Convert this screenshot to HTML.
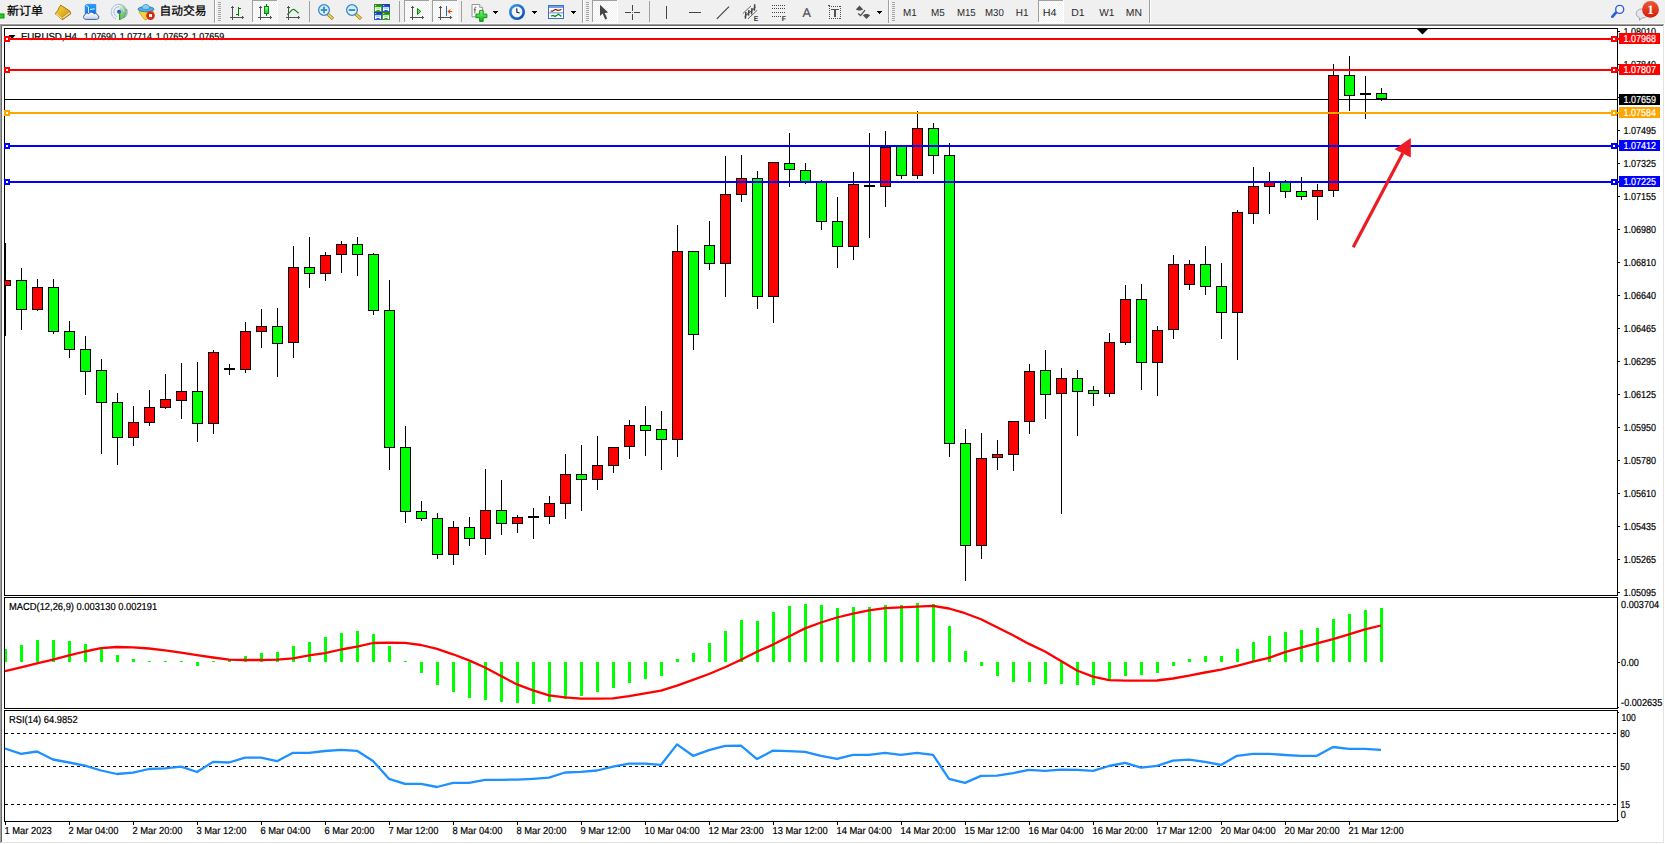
<!DOCTYPE html>
<html lang="zh"><head><meta charset="utf-8"><title>EURUSD,H4</title>
<style>
html,body{margin:0;padding:0;background:#fff;overflow:hidden}
body{width:1665px;height:844px;position:relative;font-family:"Liberation Sans","Noto Sans CJK SC",sans-serif}
svg{position:absolute;left:0;top:0;display:block}
text{white-space:pre;text-rendering:geometricPrecision}
</style></head><body>
<svg id="chart" width="1665" height="844" viewBox="0 0 1665 844" font-family="'Liberation Sans','Noto Sans CJK SC',sans-serif">
<g shape-rendering="crispEdges">
<rect x="0" y="0" width="1665" height="24" fill="#f0f0f0"/>
<rect x="0" y="23" width="1665" height="1" fill="#f8f8f8"/>
<rect x="0" y="24" width="1665" height="820" fill="#ffffff"/>
<rect x="0" y="24" width="1664" height="1" fill="#a0a0a0"/>
<rect x="0" y="24" width="1" height="819" fill="#a0a0a0"/>
<rect x="1" y="25" width="1663" height="1" fill="#696969"/>
<rect x="1" y="25" width="1" height="817" fill="#696969"/>
<rect x="1663" y="25" width="1" height="818" fill="#e3e3e3"/>
<rect x="1" y="842" width="1663" height="1" fill="#e3e3e3"/>
<rect x="4" y="28" width="1614" height="1" fill="#000"/>
<rect x="4" y="595" width="1614" height="1" fill="#000"/>
<rect x="4" y="28" width="1" height="568" fill="#000"/>
<rect x="1617" y="28" width="1" height="568" fill="#000"/>
<rect x="4" y="597" width="1614" height="1" fill="#000"/>
<rect x="4" y="708" width="1614" height="1" fill="#000"/>
<rect x="4" y="597" width="1" height="112" fill="#000"/>
<rect x="1617" y="597" width="1" height="112" fill="#000"/>
<rect x="4" y="710" width="1614" height="1" fill="#000"/>
<rect x="4" y="821" width="1614" height="1" fill="#000"/>
<rect x="4" y="710" width="1" height="112" fill="#000"/>
<rect x="1617" y="710" width="1" height="112" fill="#000"/>
</g>
<path d="M8.5 35h7l-3.5 4z" fill="#000"/>
<text x="20.90" y="40" font-size="10.2" fill="#000" stroke="#000" stroke-width=".2" textLength="56.09" lengthAdjust="spacingAndGlyphs">EURUSD,H4</text>
<text x="83.70" y="40" font-size="10.2" fill="#000" stroke="#000" stroke-width=".2" textLength="32.34" lengthAdjust="spacingAndGlyphs">1.07690</text>
<text x="119.70" y="40" font-size="10.2" fill="#000" stroke="#000" stroke-width=".2" textLength="32.34" lengthAdjust="spacingAndGlyphs">1.07714</text>
<text x="155.80" y="40" font-size="10.2" fill="#000" stroke="#000" stroke-width=".2" textLength="32.34" lengthAdjust="spacingAndGlyphs">1.07652</text>
<text x="191.80" y="40" font-size="10.2" fill="#000" stroke="#000" stroke-width=".2" textLength="32.34" lengthAdjust="spacingAndGlyphs">1.07659</text>
<g shape-rendering="crispEdges">
<rect x="5" y="99" width="1612" height="1" fill="#000"/>
<clipPath id="cm"><rect x="5" y="29" width="1612" height="566"/></clipPath><g clip-path="url(#cm)">
<rect x="5" y="243" width="1" height="93" fill="#000"/>
<rect x="0" y="280" width="11" height="6" fill="#000"/>
<rect x="1" y="281" width="9" height="4" fill="#ff0000"/>
<rect x="21" y="268" width="1" height="62" fill="#000"/>
<rect x="16" y="280" width="11" height="30" fill="#000"/>
<rect x="17" y="281" width="9" height="28" fill="#00ff00"/>
<rect x="37" y="279" width="1" height="32" fill="#000"/>
<rect x="32" y="287" width="11" height="23" fill="#000"/>
<rect x="33" y="288" width="9" height="21" fill="#ff0000"/>
<rect x="53" y="279" width="1" height="55" fill="#000"/>
<rect x="48" y="287" width="11" height="45" fill="#000"/>
<rect x="49" y="288" width="9" height="43" fill="#00ff00"/>
<rect x="69" y="321" width="1" height="37" fill="#000"/>
<rect x="64" y="331" width="11" height="19" fill="#000"/>
<rect x="65" y="332" width="9" height="17" fill="#00ff00"/>
<rect x="85" y="336" width="1" height="59" fill="#000"/>
<rect x="80" y="349" width="11" height="23" fill="#000"/>
<rect x="81" y="350" width="9" height="21" fill="#00ff00"/>
<rect x="101" y="359" width="1" height="95" fill="#000"/>
<rect x="96" y="370" width="11" height="33" fill="#000"/>
<rect x="97" y="371" width="9" height="31" fill="#00ff00"/>
<rect x="117" y="393" width="1" height="72" fill="#000"/>
<rect x="112" y="402" width="11" height="36" fill="#000"/>
<rect x="113" y="403" width="9" height="34" fill="#00ff00"/>
<rect x="133" y="406" width="1" height="40" fill="#000"/>
<rect x="128" y="422" width="11" height="16" fill="#000"/>
<rect x="129" y="423" width="9" height="14" fill="#ff0000"/>
<rect x="149" y="390" width="1" height="36" fill="#000"/>
<rect x="144" y="407" width="11" height="16" fill="#000"/>
<rect x="145" y="408" width="9" height="14" fill="#ff0000"/>
<rect x="165" y="374" width="1" height="35" fill="#000"/>
<rect x="160" y="399" width="11" height="9" fill="#000"/>
<rect x="161" y="400" width="9" height="7" fill="#ff0000"/>
<rect x="181" y="363" width="1" height="56" fill="#000"/>
<rect x="176" y="391" width="11" height="10" fill="#000"/>
<rect x="177" y="392" width="9" height="8" fill="#ff0000"/>
<rect x="197" y="362" width="1" height="80" fill="#000"/>
<rect x="192" y="391" width="11" height="33" fill="#000"/>
<rect x="193" y="392" width="9" height="31" fill="#00ff00"/>
<rect x="213" y="350" width="1" height="84" fill="#000"/>
<rect x="208" y="352" width="11" height="72" fill="#000"/>
<rect x="209" y="353" width="9" height="70" fill="#ff0000"/>
<rect x="229" y="364" width="1" height="11" fill="#000"/>
<rect x="224" y="368" width="11" height="2" fill="#000"/>
<rect x="245" y="322" width="1" height="51" fill="#000"/>
<rect x="240" y="331" width="11" height="39" fill="#000"/>
<rect x="241" y="332" width="9" height="37" fill="#ff0000"/>
<rect x="261" y="309" width="1" height="39" fill="#000"/>
<rect x="256" y="326" width="11" height="6" fill="#000"/>
<rect x="257" y="327" width="9" height="4" fill="#ff0000"/>
<rect x="277" y="308" width="1" height="69" fill="#000"/>
<rect x="272" y="326" width="11" height="18" fill="#000"/>
<rect x="273" y="327" width="9" height="16" fill="#00ff00"/>
<rect x="293" y="246" width="1" height="112" fill="#000"/>
<rect x="288" y="267" width="11" height="76" fill="#000"/>
<rect x="289" y="268" width="9" height="74" fill="#ff0000"/>
<rect x="309" y="237" width="1" height="51" fill="#000"/>
<rect x="304" y="267" width="11" height="7" fill="#000"/>
<rect x="305" y="268" width="9" height="5" fill="#00ff00"/>
<rect x="325" y="252" width="1" height="29" fill="#000"/>
<rect x="320" y="255" width="11" height="19" fill="#000"/>
<rect x="321" y="256" width="9" height="17" fill="#ff0000"/>
<rect x="341" y="241" width="1" height="32" fill="#000"/>
<rect x="336" y="244" width="11" height="11" fill="#000"/>
<rect x="337" y="245" width="9" height="9" fill="#ff0000"/>
<rect x="357" y="237" width="1" height="39" fill="#000"/>
<rect x="352" y="244" width="11" height="11" fill="#000"/>
<rect x="353" y="245" width="9" height="9" fill="#00ff00"/>
<rect x="373" y="253" width="1" height="62" fill="#000"/>
<rect x="368" y="254" width="11" height="57" fill="#000"/>
<rect x="369" y="255" width="9" height="55" fill="#00ff00"/>
<rect x="389" y="280" width="1" height="190" fill="#000"/>
<rect x="384" y="310" width="11" height="138" fill="#000"/>
<rect x="385" y="311" width="9" height="136" fill="#00ff00"/>
<rect x="405" y="426" width="1" height="97" fill="#000"/>
<rect x="400" y="447" width="11" height="65" fill="#000"/>
<rect x="401" y="448" width="9" height="63" fill="#00ff00"/>
<rect x="421" y="501" width="1" height="20" fill="#000"/>
<rect x="416" y="511" width="11" height="8" fill="#000"/>
<rect x="417" y="512" width="9" height="6" fill="#00ff00"/>
<rect x="437" y="513" width="1" height="46" fill="#000"/>
<rect x="432" y="518" width="11" height="37" fill="#000"/>
<rect x="433" y="519" width="9" height="35" fill="#00ff00"/>
<rect x="453" y="521" width="1" height="44" fill="#000"/>
<rect x="448" y="527" width="11" height="28" fill="#000"/>
<rect x="449" y="528" width="9" height="26" fill="#ff0000"/>
<rect x="469" y="517" width="1" height="29" fill="#000"/>
<rect x="464" y="527" width="11" height="12" fill="#000"/>
<rect x="465" y="528" width="9" height="10" fill="#00ff00"/>
<rect x="485" y="469" width="1" height="86" fill="#000"/>
<rect x="480" y="510" width="11" height="29" fill="#000"/>
<rect x="481" y="511" width="9" height="27" fill="#ff0000"/>
<rect x="501" y="480" width="1" height="55" fill="#000"/>
<rect x="496" y="510" width="11" height="14" fill="#000"/>
<rect x="497" y="511" width="9" height="12" fill="#00ff00"/>
<rect x="517" y="515" width="1" height="18" fill="#000"/>
<rect x="512" y="517" width="11" height="7" fill="#000"/>
<rect x="513" y="518" width="9" height="5" fill="#ff0000"/>
<rect x="533" y="508" width="1" height="31" fill="#000"/>
<rect x="528" y="516" width="11" height="2" fill="#000"/>
<rect x="549" y="496" width="1" height="28" fill="#000"/>
<rect x="544" y="503" width="11" height="14" fill="#000"/>
<rect x="545" y="504" width="9" height="12" fill="#ff0000"/>
<rect x="565" y="454" width="1" height="65" fill="#000"/>
<rect x="560" y="474" width="11" height="30" fill="#000"/>
<rect x="561" y="475" width="9" height="28" fill="#ff0000"/>
<rect x="581" y="445" width="1" height="66" fill="#000"/>
<rect x="576" y="474" width="11" height="6" fill="#000"/>
<rect x="577" y="475" width="9" height="4" fill="#00ff00"/>
<rect x="597" y="436" width="1" height="54" fill="#000"/>
<rect x="592" y="465" width="11" height="15" fill="#000"/>
<rect x="593" y="466" width="9" height="13" fill="#ff0000"/>
<rect x="613" y="447" width="1" height="26" fill="#000"/>
<rect x="608" y="447" width="11" height="19" fill="#000"/>
<rect x="609" y="448" width="9" height="17" fill="#ff0000"/>
<rect x="629" y="420" width="1" height="39" fill="#000"/>
<rect x="624" y="425" width="11" height="22" fill="#000"/>
<rect x="625" y="426" width="9" height="20" fill="#ff0000"/>
<rect x="645" y="406" width="1" height="50" fill="#000"/>
<rect x="640" y="425" width="11" height="6" fill="#000"/>
<rect x="641" y="426" width="9" height="4" fill="#00ff00"/>
<rect x="661" y="411" width="1" height="59" fill="#000"/>
<rect x="656" y="429" width="11" height="11" fill="#000"/>
<rect x="657" y="430" width="9" height="9" fill="#00ff00"/>
<rect x="677" y="225" width="1" height="232" fill="#000"/>
<rect x="672" y="251" width="11" height="189" fill="#000"/>
<rect x="673" y="252" width="9" height="187" fill="#ff0000"/>
<rect x="693" y="251" width="1" height="99" fill="#000"/>
<rect x="688" y="251" width="11" height="84" fill="#000"/>
<rect x="689" y="252" width="9" height="82" fill="#00ff00"/>
<rect x="709" y="221" width="1" height="49" fill="#000"/>
<rect x="704" y="245" width="11" height="19" fill="#000"/>
<rect x="705" y="246" width="9" height="17" fill="#00ff00"/>
<rect x="725" y="156" width="1" height="141" fill="#000"/>
<rect x="720" y="194" width="11" height="70" fill="#000"/>
<rect x="721" y="195" width="9" height="68" fill="#ff0000"/>
<rect x="741" y="155" width="1" height="47" fill="#000"/>
<rect x="736" y="178" width="11" height="17" fill="#000"/>
<rect x="737" y="179" width="9" height="15" fill="#ff0000"/>
<rect x="757" y="171" width="1" height="138" fill="#000"/>
<rect x="752" y="178" width="11" height="119" fill="#000"/>
<rect x="753" y="179" width="9" height="117" fill="#00ff00"/>
<rect x="773" y="162" width="1" height="161" fill="#000"/>
<rect x="768" y="162" width="11" height="135" fill="#000"/>
<rect x="769" y="163" width="9" height="133" fill="#ff0000"/>
<rect x="789" y="133" width="1" height="54" fill="#000"/>
<rect x="784" y="163" width="11" height="7" fill="#000"/>
<rect x="785" y="164" width="9" height="5" fill="#00ff00"/>
<rect x="805" y="163" width="1" height="21" fill="#000"/>
<rect x="800" y="170" width="11" height="12" fill="#000"/>
<rect x="801" y="171" width="9" height="10" fill="#00ff00"/>
<rect x="821" y="180" width="1" height="50" fill="#000"/>
<rect x="816" y="182" width="11" height="40" fill="#000"/>
<rect x="817" y="183" width="9" height="38" fill="#00ff00"/>
<rect x="837" y="197" width="1" height="71" fill="#000"/>
<rect x="832" y="221" width="11" height="26" fill="#000"/>
<rect x="833" y="222" width="9" height="24" fill="#00ff00"/>
<rect x="853" y="172" width="1" height="88" fill="#000"/>
<rect x="848" y="184" width="11" height="63" fill="#000"/>
<rect x="849" y="185" width="9" height="61" fill="#ff0000"/>
<rect x="869" y="133" width="1" height="105" fill="#000"/>
<rect x="864" y="185" width="11" height="2" fill="#000"/>
<rect x="885" y="131" width="1" height="76" fill="#000"/>
<rect x="880" y="147" width="11" height="40" fill="#000"/>
<rect x="881" y="148" width="9" height="38" fill="#ff0000"/>
<rect x="901" y="146" width="1" height="33" fill="#000"/>
<rect x="896" y="146" width="11" height="30" fill="#000"/>
<rect x="897" y="147" width="9" height="28" fill="#00ff00"/>
<rect x="917" y="111" width="1" height="68" fill="#000"/>
<rect x="912" y="128" width="11" height="48" fill="#000"/>
<rect x="913" y="129" width="9" height="46" fill="#ff0000"/>
<rect x="933" y="123" width="1" height="51" fill="#000"/>
<rect x="928" y="128" width="11" height="28" fill="#000"/>
<rect x="929" y="129" width="9" height="26" fill="#00ff00"/>
<rect x="949" y="143" width="1" height="314" fill="#000"/>
<rect x="944" y="155" width="11" height="289" fill="#000"/>
<rect x="945" y="156" width="9" height="287" fill="#00ff00"/>
<rect x="965" y="429" width="1" height="152" fill="#000"/>
<rect x="960" y="443" width="11" height="103" fill="#000"/>
<rect x="961" y="444" width="9" height="101" fill="#00ff00"/>
<rect x="981" y="433" width="1" height="126" fill="#000"/>
<rect x="976" y="458" width="11" height="88" fill="#000"/>
<rect x="977" y="459" width="9" height="86" fill="#ff0000"/>
<rect x="997" y="440" width="1" height="30" fill="#000"/>
<rect x="992" y="454" width="11" height="4" fill="#000"/>
<rect x="993" y="455" width="9" height="2" fill="#ff0000"/>
<rect x="1013" y="421" width="1" height="50" fill="#000"/>
<rect x="1008" y="421" width="11" height="34" fill="#000"/>
<rect x="1009" y="422" width="9" height="32" fill="#ff0000"/>
<rect x="1029" y="364" width="1" height="70" fill="#000"/>
<rect x="1024" y="371" width="11" height="51" fill="#000"/>
<rect x="1025" y="372" width="9" height="49" fill="#ff0000"/>
<rect x="1045" y="350" width="1" height="69" fill="#000"/>
<rect x="1040" y="370" width="11" height="25" fill="#000"/>
<rect x="1041" y="371" width="9" height="23" fill="#00ff00"/>
<rect x="1061" y="368" width="1" height="146" fill="#000"/>
<rect x="1056" y="378" width="11" height="16" fill="#000"/>
<rect x="1057" y="379" width="9" height="14" fill="#ff0000"/>
<rect x="1077" y="370" width="1" height="66" fill="#000"/>
<rect x="1072" y="378" width="11" height="14" fill="#000"/>
<rect x="1073" y="379" width="9" height="12" fill="#00ff00"/>
<rect x="1093" y="386" width="1" height="20" fill="#000"/>
<rect x="1088" y="390" width="11" height="4" fill="#000"/>
<rect x="1089" y="391" width="9" height="2" fill="#00ff00"/>
<rect x="1109" y="333" width="1" height="64" fill="#000"/>
<rect x="1104" y="342" width="11" height="52" fill="#000"/>
<rect x="1105" y="343" width="9" height="50" fill="#ff0000"/>
<rect x="1125" y="285" width="1" height="60" fill="#000"/>
<rect x="1120" y="299" width="11" height="44" fill="#000"/>
<rect x="1121" y="300" width="9" height="42" fill="#ff0000"/>
<rect x="1141" y="284" width="1" height="106" fill="#000"/>
<rect x="1136" y="299" width="11" height="64" fill="#000"/>
<rect x="1137" y="300" width="9" height="62" fill="#00ff00"/>
<rect x="1157" y="326" width="1" height="70" fill="#000"/>
<rect x="1152" y="330" width="11" height="33" fill="#000"/>
<rect x="1153" y="331" width="9" height="31" fill="#ff0000"/>
<rect x="1173" y="255" width="1" height="84" fill="#000"/>
<rect x="1168" y="264" width="11" height="66" fill="#000"/>
<rect x="1169" y="265" width="9" height="64" fill="#ff0000"/>
<rect x="1189" y="260" width="1" height="30" fill="#000"/>
<rect x="1184" y="264" width="11" height="21" fill="#000"/>
<rect x="1185" y="265" width="9" height="19" fill="#ff0000"/>
<rect x="1205" y="246" width="1" height="49" fill="#000"/>
<rect x="1200" y="264" width="11" height="23" fill="#000"/>
<rect x="1201" y="265" width="9" height="21" fill="#00ff00"/>
<rect x="1221" y="263" width="1" height="76" fill="#000"/>
<rect x="1216" y="286" width="11" height="27" fill="#000"/>
<rect x="1217" y="287" width="9" height="25" fill="#00ff00"/>
<rect x="1237" y="210" width="1" height="150" fill="#000"/>
<rect x="1232" y="212" width="11" height="101" fill="#000"/>
<rect x="1233" y="213" width="9" height="99" fill="#ff0000"/>
<rect x="1253" y="167" width="1" height="57" fill="#000"/>
<rect x="1248" y="186" width="11" height="28" fill="#000"/>
<rect x="1249" y="187" width="9" height="26" fill="#ff0000"/>
<rect x="1269" y="172" width="1" height="42" fill="#000"/>
<rect x="1264" y="182" width="11" height="5" fill="#000"/>
<rect x="1265" y="183" width="9" height="3" fill="#ff0000"/>
<rect x="1285" y="180" width="1" height="18" fill="#000"/>
<rect x="1280" y="182" width="11" height="10" fill="#000"/>
<rect x="1281" y="183" width="9" height="8" fill="#00ff00"/>
<rect x="1301" y="177" width="1" height="23" fill="#000"/>
<rect x="1296" y="191" width="11" height="6" fill="#000"/>
<rect x="1297" y="192" width="9" height="4" fill="#00ff00"/>
<rect x="1317" y="184" width="1" height="36" fill="#000"/>
<rect x="1312" y="190" width="11" height="7" fill="#000"/>
<rect x="1313" y="191" width="9" height="5" fill="#ff0000"/>
<rect x="1333" y="64" width="1" height="133" fill="#000"/>
<rect x="1328" y="75" width="11" height="116" fill="#000"/>
<rect x="1329" y="76" width="9" height="114" fill="#ff0000"/>
<rect x="1349" y="56" width="1" height="55" fill="#000"/>
<rect x="1344" y="75" width="11" height="21" fill="#000"/>
<rect x="1345" y="76" width="9" height="19" fill="#00ff00"/>
<rect x="1365" y="76" width="1" height="43" fill="#000"/>
<rect x="1360" y="93" width="11" height="2" fill="#000"/>
<rect x="1381" y="88" width="1" height="13" fill="#000"/>
<rect x="1376" y="93" width="11" height="6" fill="#000"/>
<rect x="1377" y="94" width="9" height="4" fill="#00ff00"/>
</g>
<rect x="5" y="38" width="1614" height="2" fill="#ff0000"/>
<rect x="4" y="36" width="6" height="6" fill="#ff0000"/>
<rect x="6" y="38" width="2" height="2" fill="#fff"/>
<rect x="1611" y="36" width="6" height="6" fill="#ff0000"/>
<rect x="1613" y="38" width="2" height="2" fill="#fff"/>
<rect x="5" y="69" width="1614" height="2" fill="#ff0000"/>
<rect x="4" y="67" width="6" height="6" fill="#ff0000"/>
<rect x="6" y="69" width="2" height="2" fill="#fff"/>
<rect x="1611" y="67" width="6" height="6" fill="#ff0000"/>
<rect x="1613" y="69" width="2" height="2" fill="#fff"/>
<rect x="5" y="112" width="1614" height="2" fill="#ffa500"/>
<rect x="4" y="110" width="6" height="6" fill="#ffa500"/>
<rect x="6" y="112" width="2" height="2" fill="#fff"/>
<rect x="1611" y="110" width="6" height="6" fill="#ffa500"/>
<rect x="1613" y="112" width="2" height="2" fill="#fff"/>
<rect x="5" y="145" width="1614" height="2" fill="#0000ff"/>
<rect x="4" y="143" width="6" height="6" fill="#0000ff"/>
<rect x="6" y="145" width="2" height="2" fill="#fff"/>
<rect x="1611" y="143" width="6" height="6" fill="#0000ff"/>
<rect x="1613" y="145" width="2" height="2" fill="#fff"/>
<rect x="5" y="181" width="1614" height="2" fill="#0000ff"/>
<rect x="4" y="179" width="6" height="6" fill="#0000ff"/>
<rect x="6" y="181" width="2" height="2" fill="#fff"/>
<rect x="1611" y="179" width="6" height="6" fill="#0000ff"/>
<rect x="1613" y="181" width="2" height="2" fill="#fff"/>
</g>
<path d="M1417 29h11l-5.5 5.5z" fill="#000"/>
<g shape-rendering="crispEdges">
<rect x="1618" y="31" width="2" height="1" fill="#000"/>
<rect x="1618" y="64" width="2" height="1" fill="#000"/>
<rect x="1618" y="97" width="2" height="1" fill="#000"/>
<rect x="1618" y="130" width="2" height="1" fill="#000"/>
<rect x="1618" y="163" width="2" height="1" fill="#000"/>
<rect x="1618" y="196" width="2" height="1" fill="#000"/>
<rect x="1618" y="229" width="2" height="1" fill="#000"/>
<rect x="1618" y="262" width="2" height="1" fill="#000"/>
<rect x="1618" y="295" width="2" height="1" fill="#000"/>
<rect x="1618" y="328" width="2" height="1" fill="#000"/>
<rect x="1618" y="361" width="2" height="1" fill="#000"/>
<rect x="1618" y="394" width="2" height="1" fill="#000"/>
<rect x="1618" y="427" width="2" height="1" fill="#000"/>
<rect x="1618" y="460" width="2" height="1" fill="#000"/>
<rect x="1618" y="493" width="2" height="1" fill="#000"/>
<rect x="1618" y="526" width="2" height="1" fill="#000"/>
<rect x="1618" y="559" width="2" height="1" fill="#000"/>
<rect x="1618" y="592" width="2" height="1" fill="#000"/>
<rect x="1618" y="662" width="2" height="1" fill="#000"/>
<rect x="1618" y="707" width="1" height="1" fill="#000"/>
<rect x="1618" y="712" width="1" height="1" fill="#000"/>
<rect x="1618" y="820" width="1" height="1" fill="#000"/>
</g>
<text x="1623.50" y="35" font-size="10.2" fill="#000" stroke="#000" stroke-width=".2" textLength="32.54" lengthAdjust="spacingAndGlyphs">1.08010</text>
<text x="1623.50" y="68" font-size="10.2" fill="#000" stroke="#000" stroke-width=".2" textLength="32.54" lengthAdjust="spacingAndGlyphs">1.07840</text>
<text x="1623.50" y="101" font-size="10.2" fill="#000" stroke="#000" stroke-width=".2" textLength="32.54" lengthAdjust="spacingAndGlyphs">1.07670</text>
<text x="1623.50" y="134" font-size="10.2" fill="#000" stroke="#000" stroke-width=".2" textLength="32.54" lengthAdjust="spacingAndGlyphs">1.07495</text>
<text x="1623.50" y="167" font-size="10.2" fill="#000" stroke="#000" stroke-width=".2" textLength="32.54" lengthAdjust="spacingAndGlyphs">1.07325</text>
<text x="1623.50" y="200" font-size="10.2" fill="#000" stroke="#000" stroke-width=".2" textLength="32.54" lengthAdjust="spacingAndGlyphs">1.07155</text>
<text x="1623.50" y="233" font-size="10.2" fill="#000" stroke="#000" stroke-width=".2" textLength="32.54" lengthAdjust="spacingAndGlyphs">1.06980</text>
<text x="1623.50" y="266" font-size="10.2" fill="#000" stroke="#000" stroke-width=".2" textLength="32.54" lengthAdjust="spacingAndGlyphs">1.06810</text>
<text x="1623.50" y="299" font-size="10.2" fill="#000" stroke="#000" stroke-width=".2" textLength="32.54" lengthAdjust="spacingAndGlyphs">1.06640</text>
<text x="1623.50" y="332" font-size="10.2" fill="#000" stroke="#000" stroke-width=".2" textLength="32.54" lengthAdjust="spacingAndGlyphs">1.06465</text>
<text x="1623.50" y="365" font-size="10.2" fill="#000" stroke="#000" stroke-width=".2" textLength="32.54" lengthAdjust="spacingAndGlyphs">1.06295</text>
<text x="1623.50" y="398" font-size="10.2" fill="#000" stroke="#000" stroke-width=".2" textLength="32.54" lengthAdjust="spacingAndGlyphs">1.06125</text>
<text x="1623.50" y="431" font-size="10.2" fill="#000" stroke="#000" stroke-width=".2" textLength="32.54" lengthAdjust="spacingAndGlyphs">1.05950</text>
<text x="1623.50" y="464" font-size="10.2" fill="#000" stroke="#000" stroke-width=".2" textLength="32.54" lengthAdjust="spacingAndGlyphs">1.05780</text>
<text x="1623.50" y="497" font-size="10.2" fill="#000" stroke="#000" stroke-width=".2" textLength="32.54" lengthAdjust="spacingAndGlyphs">1.05610</text>
<text x="1623.50" y="530" font-size="10.2" fill="#000" stroke="#000" stroke-width=".2" textLength="32.54" lengthAdjust="spacingAndGlyphs">1.05435</text>
<text x="1623.50" y="563" font-size="10.2" fill="#000" stroke="#000" stroke-width=".2" textLength="32.54" lengthAdjust="spacingAndGlyphs">1.05265</text>
<text x="1623.50" y="596" font-size="10.2" fill="#000" stroke="#000" stroke-width=".2" textLength="32.54" lengthAdjust="spacingAndGlyphs">1.05095</text>
<g shape-rendering="crispEdges">
<rect x="1619" y="94" width="41" height="11" fill="#000"/>
<rect x="1619" y="33" width="41" height="11" fill="#ff0000"/>
<rect x="1619" y="64" width="41" height="11" fill="#ff0000"/>
<rect x="1619" y="107" width="41" height="11" fill="#ffa500"/>
<rect x="1619" y="140" width="41" height="11" fill="#0000ff"/>
<rect x="1619" y="176" width="41" height="11" fill="#0000ff"/>
</g>
<text x="1623.50" y="103" font-size="10.2" fill="#fff" stroke="#fff" stroke-width=".2" textLength="32.54" lengthAdjust="spacingAndGlyphs">1.07659</text>
<text x="1623.50" y="42" font-size="10.2" fill="#fff" stroke="#fff" stroke-width=".2" textLength="32.54" lengthAdjust="spacingAndGlyphs">1.07968</text>
<text x="1623.50" y="73" font-size="10.2" fill="#fff" stroke="#fff" stroke-width=".2" textLength="32.54" lengthAdjust="spacingAndGlyphs">1.07807</text>
<text x="1623.50" y="116" font-size="10.2" fill="#fff" stroke="#fff" stroke-width=".2" textLength="32.54" lengthAdjust="spacingAndGlyphs">1.07584</text>
<text x="1623.50" y="149" font-size="10.2" fill="#fff" stroke="#fff" stroke-width=".2" textLength="32.54" lengthAdjust="spacingAndGlyphs">1.07412</text>
<text x="1623.50" y="185" font-size="10.2" fill="#fff" stroke="#fff" stroke-width=".2" textLength="32.54" lengthAdjust="spacingAndGlyphs">1.07225</text>
<clipPath id="cq"><rect x="5" y="598" width="1612" height="110"/></clipPath><g shape-rendering="crispEdges" clip-path="url(#cq)">
<rect x="4" y="649" width="3" height="13" fill="#00ff00"/>
<rect x="20" y="645" width="3" height="17" fill="#00ff00"/>
<rect x="36" y="640" width="3" height="22" fill="#00ff00"/>
<rect x="52" y="640" width="3" height="22" fill="#00ff00"/>
<rect x="68" y="641" width="3" height="21" fill="#00ff00"/>
<rect x="84" y="644" width="3" height="18" fill="#00ff00"/>
<rect x="100" y="649" width="3" height="13" fill="#00ff00"/>
<rect x="116" y="655" width="3" height="7" fill="#00ff00"/>
<rect x="132" y="659" width="3" height="3" fill="#00ff00"/>
<rect x="148" y="661" width="3" height="1" fill="#00ff00"/>
<rect x="164" y="661" width="3" height="1" fill="#00ff00"/>
<rect x="180" y="661" width="3" height="1" fill="#00ff00"/>
<rect x="196" y="662" width="3" height="4" fill="#00ff00"/>
<rect x="212" y="661" width="3" height="1" fill="#00ff00"/>
<rect x="228" y="660" width="3" height="2" fill="#00ff00"/>
<rect x="244" y="656" width="3" height="6" fill="#00ff00"/>
<rect x="260" y="653" width="3" height="9" fill="#00ff00"/>
<rect x="276" y="652" width="3" height="10" fill="#00ff00"/>
<rect x="292" y="646" width="3" height="16" fill="#00ff00"/>
<rect x="308" y="642" width="3" height="20" fill="#00ff00"/>
<rect x="324" y="637" width="3" height="25" fill="#00ff00"/>
<rect x="340" y="633" width="3" height="29" fill="#00ff00"/>
<rect x="356" y="631" width="3" height="31" fill="#00ff00"/>
<rect x="372" y="634" width="3" height="28" fill="#00ff00"/>
<rect x="388" y="646" width="3" height="16" fill="#00ff00"/>
<rect x="404" y="661" width="3" height="1" fill="#00ff00"/>
<rect x="420" y="662" width="3" height="11" fill="#00ff00"/>
<rect x="436" y="662" width="3" height="23" fill="#00ff00"/>
<rect x="452" y="662" width="3" height="30" fill="#00ff00"/>
<rect x="468" y="662" width="3" height="36" fill="#00ff00"/>
<rect x="484" y="662" width="3" height="38" fill="#00ff00"/>
<rect x="500" y="662" width="3" height="40" fill="#00ff00"/>
<rect x="516" y="662" width="3" height="41" fill="#00ff00"/>
<rect x="532" y="662" width="3" height="42" fill="#00ff00"/>
<rect x="548" y="662" width="3" height="40" fill="#00ff00"/>
<rect x="564" y="662" width="3" height="37" fill="#00ff00"/>
<rect x="580" y="662" width="3" height="34" fill="#00ff00"/>
<rect x="596" y="662" width="3" height="30" fill="#00ff00"/>
<rect x="612" y="662" width="3" height="26" fill="#00ff00"/>
<rect x="628" y="662" width="3" height="21" fill="#00ff00"/>
<rect x="644" y="662" width="3" height="17" fill="#00ff00"/>
<rect x="660" y="662" width="3" height="14" fill="#00ff00"/>
<rect x="676" y="659" width="3" height="3" fill="#00ff00"/>
<rect x="692" y="653" width="3" height="9" fill="#00ff00"/>
<rect x="708" y="643" width="3" height="19" fill="#00ff00"/>
<rect x="724" y="631" width="3" height="31" fill="#00ff00"/>
<rect x="740" y="620" width="3" height="42" fill="#00ff00"/>
<rect x="756" y="621" width="3" height="41" fill="#00ff00"/>
<rect x="772" y="612" width="3" height="50" fill="#00ff00"/>
<rect x="788" y="606" width="3" height="56" fill="#00ff00"/>
<rect x="804" y="604" width="3" height="58" fill="#00ff00"/>
<rect x="820" y="605" width="3" height="57" fill="#00ff00"/>
<rect x="836" y="608" width="3" height="54" fill="#00ff00"/>
<rect x="852" y="607" width="3" height="55" fill="#00ff00"/>
<rect x="868" y="607" width="3" height="55" fill="#00ff00"/>
<rect x="884" y="605" width="3" height="57" fill="#00ff00"/>
<rect x="900" y="605" width="3" height="57" fill="#00ff00"/>
<rect x="916" y="603" width="3" height="59" fill="#00ff00"/>
<rect x="932" y="604" width="3" height="58" fill="#00ff00"/>
<rect x="948" y="626" width="3" height="36" fill="#00ff00"/>
<rect x="964" y="651" width="3" height="11" fill="#00ff00"/>
<rect x="980" y="662" width="3" height="4" fill="#00ff00"/>
<rect x="996" y="662" width="3" height="14" fill="#00ff00"/>
<rect x="1012" y="662" width="3" height="20" fill="#00ff00"/>
<rect x="1028" y="662" width="3" height="20" fill="#00ff00"/>
<rect x="1044" y="662" width="3" height="22" fill="#00ff00"/>
<rect x="1060" y="662" width="3" height="22" fill="#00ff00"/>
<rect x="1076" y="662" width="3" height="23" fill="#00ff00"/>
<rect x="1092" y="662" width="3" height="23" fill="#00ff00"/>
<rect x="1108" y="662" width="3" height="19" fill="#00ff00"/>
<rect x="1124" y="662" width="3" height="14" fill="#00ff00"/>
<rect x="1140" y="662" width="3" height="13" fill="#00ff00"/>
<rect x="1156" y="662" width="3" height="11" fill="#00ff00"/>
<rect x="1172" y="662" width="3" height="4" fill="#00ff00"/>
<rect x="1188" y="659" width="3" height="3" fill="#00ff00"/>
<rect x="1204" y="656" width="3" height="6" fill="#00ff00"/>
<rect x="1220" y="656" width="3" height="6" fill="#00ff00"/>
<rect x="1236" y="649" width="3" height="13" fill="#00ff00"/>
<rect x="1252" y="642" width="3" height="20" fill="#00ff00"/>
<rect x="1268" y="636" width="3" height="26" fill="#00ff00"/>
<rect x="1284" y="632" width="3" height="30" fill="#00ff00"/>
<rect x="1300" y="630" width="3" height="32" fill="#00ff00"/>
<rect x="1316" y="628" width="3" height="34" fill="#00ff00"/>
<rect x="1332" y="619" width="3" height="43" fill="#00ff00"/>
<rect x="1348" y="614" width="3" height="48" fill="#00ff00"/>
<rect x="1364" y="610" width="3" height="52" fill="#00ff00"/>
<rect x="1380" y="608" width="3" height="54" fill="#00ff00"/>
</g>
<polyline points="5,671.2 21,667.3 37,663.4 53,659.7 69,655.4 85,651.5 101,648.2 117,647.0 133,647.4 149,648.5 165,650.4 181,652.6 197,655.2 213,657.5 229,659.7 245,660.0 261,660.0 277,659.7 293,658.4 309,655.4 325,653.2 341,649.5 357,646.7 373,643.0 389,642.6 405,642.8 421,645.0 437,648.9 453,654.3 469,660.4 485,667.5 501,676.1 517,684.4 533,690.4 549,695.4 565,697.3 581,698.6 597,698.6 613,698.4 629,696.2 645,693.4 661,690.6 677,685.6 693,679.8 709,674.0 725,667.3 741,659.7 757,651.7 773,644.6 789,636.4 805,628.4 821,622.5 837,617.5 853,613.6 869,610.4 885,608.2 901,607.4 917,606.7 933,605.9 949,608.5 965,613.2 981,619.3 997,627.3 1013,635.3 1029,643.9 1045,651.5 1061,661.0 1077,670.5 1093,676.6 1109,680.2 1125,680.7 1141,680.7 1157,680.5 1173,678.5 1189,675.7 1205,672.5 1221,669.6 1237,665.8 1253,661.6 1269,657.8 1285,652.1 1301,647.6 1317,643.3 1333,639.2 1349,634.4 1365,629.4 1381,625.5" fill="none" stroke="#ff0000" stroke-width="2.3" stroke-linejoin="round"/>
<text x="9" y="610" font-size="10.2" fill="#000" stroke="#000" stroke-width=".2" textLength="148.2" lengthAdjust="spacingAndGlyphs">MACD(12,26,9) 0.003130 0.002191</text>
<text x="1621.10" y="608" font-size="10.2" fill="#000" stroke="#000" stroke-width=".2" textLength="38.10" lengthAdjust="spacingAndGlyphs">0.003704</text>
<text x="1621.10" y="666" font-size="10.2" fill="#000" stroke="#000" stroke-width=".2" textLength="17.86" lengthAdjust="spacingAndGlyphs">0.00</text>
<text x="1621.10" y="706" font-size="10.2" fill="#000" stroke="#000" stroke-width=".2" textLength="41.13" lengthAdjust="spacingAndGlyphs">-0.002635</text>
<g shape-rendering="crispEdges">
<path d="M5 733.5H1617" stroke="#000" stroke-width="1" stroke-dasharray="3 3" fill="none"/>
<path d="M5 766.5H1617" stroke="#000" stroke-width="1" stroke-dasharray="3 3" fill="none"/>
<path d="M5 804.5H1617" stroke="#000" stroke-width="1" stroke-dasharray="3 3" fill="none"/>
</g>
<polyline points="5,748.5 21,753.9 37,751.5 53,759.5 69,762.5 85,765.6 101,770.5 117,774.0 133,772.7 149,769.0 165,768.4 181,766.6 197,772.0 213,761.9 229,762.5 245,757.6 261,757.6 277,761.2 293,752.8 309,752.8 325,751.0 341,749.8 357,750.8 373,761.0 389,778.8 405,783.9 421,783.9 437,787.0 453,782.9 469,782.9 485,779.8 501,779.8 517,779.6 533,778.8 549,777.7 565,772.5 581,771.8 597,770.5 613,766.6 629,763.6 645,763.6 661,764.9 677,744.4 693,755.8 709,750.2 725,745.9 741,745.7 757,759.1 773,750.6 789,751.1 805,751.9 821,755.8 837,758.9 853,754.8 869,754.8 885,752.8 901,754.8 917,752.8 933,754.8 949,778.8 965,782.9 981,775.9 997,775.7 1013,773.1 1029,769.9 1045,770.8 1061,769.7 1077,769.9 1093,770.8 1109,766.0 1125,762.8 1141,767.7 1157,765.8 1173,760.6 1189,759.7 1205,761.9 1221,764.9 1237,755.8 1253,753.9 1269,753.9 1285,755.0 1301,755.8 1317,755.8 1333,747.0 1349,748.9 1365,748.9 1381,749.8" fill="none" stroke="#1e90ff" stroke-width="2.3" stroke-linejoin="round"/>
<text x="9" y="723" font-size="10.2" fill="#000" stroke="#000" stroke-width=".2" textLength="68.6" lengthAdjust="spacingAndGlyphs">RSI(14) 64.9852</text>
<text x="1621.40" y="721" font-size="10.2" fill="#000" stroke="#000" stroke-width=".2" textLength="14.29" lengthAdjust="spacingAndGlyphs">100</text>
<text x="1620.30" y="737" font-size="10.2" fill="#000" stroke="#000" stroke-width=".2" textLength="9.52" lengthAdjust="spacingAndGlyphs">80</text>
<text x="1620.30" y="770" font-size="10.2" fill="#000" stroke="#000" stroke-width=".2" textLength="9.52" lengthAdjust="spacingAndGlyphs">50</text>
<text x="1620.60" y="808" font-size="10.2" fill="#000" stroke="#000" stroke-width=".2" textLength="9.42" lengthAdjust="spacingAndGlyphs">15</text>
<text x="1620.80" y="818" font-size="10.2" fill="#000" stroke="#000" stroke-width=".2" textLength="5.16" lengthAdjust="spacingAndGlyphs">0</text>
<g shape-rendering="crispEdges">
<rect x="5" y="822" width="1" height="3" fill="#000"/>
<rect x="69" y="822" width="1" height="3" fill="#000"/>
<rect x="133" y="822" width="1" height="3" fill="#000"/>
<rect x="197" y="822" width="1" height="3" fill="#000"/>
<rect x="261" y="822" width="1" height="3" fill="#000"/>
<rect x="325" y="822" width="1" height="3" fill="#000"/>
<rect x="389" y="822" width="1" height="3" fill="#000"/>
<rect x="453" y="822" width="1" height="3" fill="#000"/>
<rect x="517" y="822" width="1" height="3" fill="#000"/>
<rect x="581" y="822" width="1" height="3" fill="#000"/>
<rect x="645" y="822" width="1" height="3" fill="#000"/>
<rect x="709" y="822" width="1" height="3" fill="#000"/>
<rect x="773" y="822" width="1" height="3" fill="#000"/>
<rect x="837" y="822" width="1" height="3" fill="#000"/>
<rect x="901" y="822" width="1" height="3" fill="#000"/>
<rect x="965" y="822" width="1" height="3" fill="#000"/>
<rect x="1029" y="822" width="1" height="3" fill="#000"/>
<rect x="1093" y="822" width="1" height="3" fill="#000"/>
<rect x="1157" y="822" width="1" height="3" fill="#000"/>
<rect x="1221" y="822" width="1" height="3" fill="#000"/>
<rect x="1285" y="822" width="1" height="3" fill="#000"/>
<rect x="1349" y="822" width="1" height="3" fill="#000"/>
</g>
<text x="4.5" y="834" font-size="10.2" fill="#000" stroke="#000" stroke-width=".2" textLength="47.3" lengthAdjust="spacingAndGlyphs">1 Mar 2023</text>
<text x="68.5" y="834" font-size="10.2" fill="#000" stroke="#000" stroke-width=".2" textLength="49.9" lengthAdjust="spacingAndGlyphs">2 Mar 04:00</text>
<text x="132.5" y="834" font-size="10.2" fill="#000" stroke="#000" stroke-width=".2" textLength="49.9" lengthAdjust="spacingAndGlyphs">2 Mar 20:00</text>
<text x="196.5" y="834" font-size="10.2" fill="#000" stroke="#000" stroke-width=".2" textLength="49.9" lengthAdjust="spacingAndGlyphs">3 Mar 12:00</text>
<text x="260.5" y="834" font-size="10.2" fill="#000" stroke="#000" stroke-width=".2" textLength="49.9" lengthAdjust="spacingAndGlyphs">6 Mar 04:00</text>
<text x="324.5" y="834" font-size="10.2" fill="#000" stroke="#000" stroke-width=".2" textLength="49.9" lengthAdjust="spacingAndGlyphs">6 Mar 20:00</text>
<text x="388.5" y="834" font-size="10.2" fill="#000" stroke="#000" stroke-width=".2" textLength="49.9" lengthAdjust="spacingAndGlyphs">7 Mar 12:00</text>
<text x="452.5" y="834" font-size="10.2" fill="#000" stroke="#000" stroke-width=".2" textLength="49.9" lengthAdjust="spacingAndGlyphs">8 Mar 04:00</text>
<text x="516.5" y="834" font-size="10.2" fill="#000" stroke="#000" stroke-width=".2" textLength="49.9" lengthAdjust="spacingAndGlyphs">8 Mar 20:00</text>
<text x="580.5" y="834" font-size="10.2" fill="#000" stroke="#000" stroke-width=".2" textLength="49.9" lengthAdjust="spacingAndGlyphs">9 Mar 12:00</text>
<text x="644.5" y="834" font-size="10.2" fill="#000" stroke="#000" stroke-width=".2" textLength="55.1" lengthAdjust="spacingAndGlyphs">10 Mar 04:00</text>
<text x="708.5" y="834" font-size="10.2" fill="#000" stroke="#000" stroke-width=".2" textLength="55.1" lengthAdjust="spacingAndGlyphs">12 Mar 23:00</text>
<text x="772.5" y="834" font-size="10.2" fill="#000" stroke="#000" stroke-width=".2" textLength="55.1" lengthAdjust="spacingAndGlyphs">13 Mar 12:00</text>
<text x="836.5" y="834" font-size="10.2" fill="#000" stroke="#000" stroke-width=".2" textLength="55.1" lengthAdjust="spacingAndGlyphs">14 Mar 04:00</text>
<text x="900.5" y="834" font-size="10.2" fill="#000" stroke="#000" stroke-width=".2" textLength="55.1" lengthAdjust="spacingAndGlyphs">14 Mar 20:00</text>
<text x="964.5" y="834" font-size="10.2" fill="#000" stroke="#000" stroke-width=".2" textLength="55.1" lengthAdjust="spacingAndGlyphs">15 Mar 12:00</text>
<text x="1028.5" y="834" font-size="10.2" fill="#000" stroke="#000" stroke-width=".2" textLength="55.1" lengthAdjust="spacingAndGlyphs">16 Mar 04:00</text>
<text x="1092.5" y="834" font-size="10.2" fill="#000" stroke="#000" stroke-width=".2" textLength="55.1" lengthAdjust="spacingAndGlyphs">16 Mar 20:00</text>
<text x="1156.5" y="834" font-size="10.2" fill="#000" stroke="#000" stroke-width=".2" textLength="55.1" lengthAdjust="spacingAndGlyphs">17 Mar 12:00</text>
<text x="1220.5" y="834" font-size="10.2" fill="#000" stroke="#000" stroke-width=".2" textLength="55.1" lengthAdjust="spacingAndGlyphs">20 Mar 04:00</text>
<text x="1284.5" y="834" font-size="10.2" fill="#000" stroke="#000" stroke-width=".2" textLength="55.1" lengthAdjust="spacingAndGlyphs">20 Mar 20:00</text>
<text x="1348.5" y="834" font-size="10.2" fill="#000" stroke="#000" stroke-width=".2" textLength="55.1" lengthAdjust="spacingAndGlyphs">21 Mar 12:00</text>
<path d="M1353.2 247.3L1402.8 153.2" stroke="#ed1c24" stroke-width="3.2" fill="none"/>
<path d="M1410.8 138L1394.5 149.3L1410.8 157.6z" fill="#ed1c24"/>
</svg>
<svg id="toolbar" width="1665" height="24" viewBox="0 0 1665 24" font-family="'Liberation Sans','Noto Sans CJK SC',sans-serif">
<defs>
<pattern id="chk" width="2" height="2" patternUnits="userSpaceOnUse"><rect width="2" height="2" fill="#f0f0f0"/><rect width="1" height="1" fill="#fff"/><rect x="1" y="1" width="1" height="1" fill="#fff"/></pattern>
<linearGradient id="gold" x1="0" y1="0" x2="1" y2="1"><stop offset="0" stop-color="#f9dc3a"/><stop offset="1" stop-color="#c98a12"/></linearGradient>
<linearGradient id="gcan" x1="0" y1="0" x2="0" y2="1"><stop offset="0" stop-color="#8cf79c"/><stop offset="1" stop-color="#14d034"/></linearGradient>
<linearGradient id="badge" x1="0" y1="0" x2="0" y2="1"><stop offset="0" stop-color="#ea5a3a"/><stop offset="1" stop-color="#d61a05"/></linearGradient>
<linearGradient id="lens" x1="0" y1="0" x2="0" y2="1"><stop offset="0" stop-color="#c4e8f8"/><stop offset="1" stop-color="#eefaff"/></linearGradient>
<linearGradient id="gplus" x1="0" y1="0" x2="0" y2="1"><stop offset="0" stop-color="#7dfa7d"/><stop offset="1" stop-color="#0fb30f"/></linearGradient>
<linearGradient id="blu" x1="0" y1="0" x2="0" y2="1"><stop offset="0" stop-color="#2aa0ff"/><stop offset="1" stop-color="#0a70e0"/></linearGradient>
<linearGradient id="cloud" x1="0" y1="0" x2="0" y2="1"><stop offset="0" stop-color="#ffffff"/><stop offset="1" stop-color="#c4d2ea"/></linearGradient>
</defs>
<rect x="-2" y="14" width="6" height="4" fill="#1fd11f" stroke="#0a8a0a" stroke-width="1"/>
<text x="7" y="15" font-size="12" fill="#000" stroke="#000" stroke-width=".25">新订单</text>
<path d="M60.7 5.2L69.8 11L70.8 13.8L62.5 19.7L55.2 13.7Q58.4 10.4 59.2 7.4Z" fill="url(#gold)" stroke="#a8700f" stroke-width="1" stroke-linejoin="round"/>
<path d="M69.5 11.6L70.5 13.6L62.7 19.2L62 17.4Z" fill="#e8dca0" stroke="#a8700f" stroke-width=".5"/>
<path d="M56.2 14L62 18.4" fill="none" stroke="#ffe98a" stroke-width="1.1" opacity=".9"/>
<path d="M85.2 5.2L88 4.2L95.8 4.6L95.8 14L85.2 14Z" fill="url(#blu)" stroke="#0a78e8" stroke-width=".6"/>
<path d="M85.8 5.2L88.5 7L88.5 13" stroke="#e8f6ff" stroke-width=".9" fill="none"/><path d="M90.2 9.5L94.6 8.7" stroke="#e6f4ff" stroke-width="1.1"/>
<path d="M86.2 19.4C83 19.4 82.6 15.6 85 14.8C85.2 13 87.6 12.6 88.6 13.8C89.4 11.8 93.2 11.6 94 13.8C95.4 12.8 97.6 13.6 97.4 15.2C99.6 15.6 99.4 19.4 96.4 19.4Z" fill="url(#cloud)" stroke="#3f5f9f" stroke-width="1"/>
<defs><linearGradient id="rad" x1="0" y1="0" x2=".6" y2="1"><stop offset="0" stop-color="#e6efe2"/><stop offset="1" stop-color="#3aa23a"/></linearGradient></defs>
<path d="M119 4A8 8 0 0 1 119.8 19.9L119.8 12Z" fill="url(#rad)" opacity=".85"/>
<g fill="none" stroke-width="1" stroke-dasharray="1.6 .8"><path d="M119 4.2A7.7 7.7 0 0 0 116 19" stroke="#5f8fe0" opacity=".75"/><path d="M119 6.8A5.1 5.1 0 0 0 116.6 16.4" stroke="#5f8fe0" opacity=".8"/></g>
<g fill="none" stroke-width=".9"><path d="M119 6.8A5.1 5.1 0 0 1 124 12" stroke="#fff" opacity=".6"/><path d="M119 4.2A7.7 7.7 0 0 1 126.6 11" stroke="#7a9ac8" opacity=".6"/><path d="M126.6 9A7.9 7.9 0 0 1 124 18" stroke="#3a7a9a" opacity=".7"/></g>
<circle cx="119" cy="11.8" r="2" fill="#2458cc"/><rect x="119" y="12" width="1.3" height="8" fill="#1fa51f"/>
<path d="M139.5 10.5L152.5 10.5L153 13L146 19.8L144.6 19.6L139.2 12.4Z" fill="#f7d438" stroke="#c79a1a" stroke-width=".8"/>
<ellipse cx="146" cy="9.2" rx="8" ry="2.6" fill="#56ace0" stroke="#1f80b0" stroke-width=".9"/><path d="M141.8 8.6C142 3 149.6 3 149.8 8.6C147.4 9.8 144.2 9.8 141.8 8.6Z" fill="#86ccf2" stroke="#2a86c0" stroke-width=".7"/>
<circle cx="150.5" cy="15.6" r="4.3" fill="#d92a10"/><rect x="149" y="14.1" width="3" height="3" fill="#fff"/>
<text x="159.6" y="15" font-size="12" fill="#000" stroke="#000" stroke-width=".25" textLength="47" lengthAdjust="spacingAndGlyphs">自动交易</text>
<rect x="214" y="0" width="1" height="23" fill="#a0a0a0" shape-rendering="crispEdges"/><rect x="215" y="0" width="1" height="23" fill="#fff" shape-rendering="crispEdges"/>
<g fill="#a6a6a6" shape-rendering="crispEdges"><rect x="218" y="2" width="3" height="1"/><rect x="218" y="4" width="3" height="1"/><rect x="218" y="6" width="3" height="1"/><rect x="218" y="8" width="3" height="1"/><rect x="218" y="10" width="3" height="1"/><rect x="218" y="12" width="3" height="1"/><rect x="218" y="14" width="3" height="1"/><rect x="218" y="16" width="3" height="1"/><rect x="218" y="18" width="3" height="1"/><rect x="218" y="20" width="3" height="1"/></g>
<g transform="translate(230,6)" fill="#505050" shape-rendering="crispEdges"><rect x="2" y="0" width="1" height="14"/><rect x="1" y="1" width="3" height="1"/><rect x="0" y="11" width="14" height="1"/><rect x="12" y="10" width="1" height="3"/></g>
<g fill="#008000" shape-rendering="crispEdges"><rect x="238" y="7" width="1" height="9"/><rect x="239" y="8" width="2" height="1"/><rect x="236" y="14" width="2" height="1"/></g>
<g shape-rendering="crispEdges"><rect x="252" y="0" width="26" height="23" fill="url(#chk)"/><rect x="252" y="0" width="25" height="1" fill="#a0a0a0"/><rect x="252" y="0" width="1" height="22" fill="#a0a0a0"/><rect x="252" y="22" width="26" height="1" fill="#fff"/><rect x="277" y="0" width="1" height="23" fill="#fff"/></g>
<g transform="translate(258,6)" fill="#505050" shape-rendering="crispEdges"><rect x="2" y="0" width="1" height="14"/><rect x="1" y="1" width="3" height="1"/><rect x="0" y="11" width="14" height="1"/><rect x="12" y="10" width="1" height="3"/></g>
<g shape-rendering="crispEdges"><rect x="266" y="4" width="1" height="12" fill="#008000"/><rect x="264" y="6" width="5" height="8" fill="#0a8a0a"/><rect x="265" y="7" width="3" height="6" fill="url(#gcan)"/></g>
<g transform="translate(286,6)" fill="#505050" shape-rendering="crispEdges"><rect x="2" y="0" width="1" height="14"/><rect x="1" y="1" width="3" height="1"/><rect x="0" y="11" width="14" height="1"/><rect x="12" y="10" width="1" height="3"/></g>
<path d="M287.2 14.6C289.5 13.5 291 9.4 293.4 9.4C295.6 9.4 296.6 12.6 298.8 13" fill="none" stroke="#1a8a1a" stroke-width="1.3"/>
<rect x="309" y="1" width="1" height="21" fill="#a0a0a0" shape-rendering="crispEdges"/>
<path d="M327.2 13.6L333 18.9" stroke="#a07810" stroke-width="3.3"/><path d="M327.2 13.6L332.6 18.5" stroke="#ecd24e" stroke-width="1.7"/>
<circle cx="324" cy="10" r="5.4" fill="url(#lens)" stroke="#3c86cc" stroke-width="1.3"/>
<rect x="320.8" y="9.1" width="6.4" height="1.9" fill="#3a8fb8"/>
<rect x="323.05" y="6.8" width="1.9" height="6.4" fill="#3a8fb8"/>
<path d="M355.2 13.6L361 18.9" stroke="#a07810" stroke-width="3.3"/><path d="M355.2 13.6L360.6 18.5" stroke="#ecd24e" stroke-width="1.7"/>
<circle cx="352" cy="10" r="5.4" fill="url(#lens)" stroke="#3c86cc" stroke-width="1.3"/>
<rect x="348.8" y="9.1" width="6.4" height="1.9" fill="#3a8fb8"/>
<rect x="374" y="4" width="8" height="8" fill="#3aa324"/><rect x="374" y="4" width="8" height="2.2" fill="#2a8a18"/><rect x="375.2" y="5" width="1" height="1" fill="#fff" opacity=".9"/><path d="M375 7.2h6v3.8h-1.3v-1h-3.4v1h-1.3z" fill="#fff"/><rect x="376.2" y="8.3" width="3.6" height=".8" fill="#3aa324" opacity=".5"/>
<rect x="382" y="4" width="8" height="8" fill="#2a5fd8"/><rect x="382" y="4" width="8" height="2.2" fill="#1a3fb0"/><rect x="383.2" y="5" width="1" height="1" fill="#fff" opacity=".9"/><path d="M383 7.2h6v3.8h-1.3v-1h-3.4v1h-1.3z" fill="#fff"/><rect x="384.2" y="8.3" width="3.6" height=".8" fill="#2a5fd8" opacity=".5"/>
<rect x="374" y="12" width="8" height="8" fill="#2a5fd8"/><rect x="374" y="12" width="8" height="2.2" fill="#1a3fb0"/><rect x="375.2" y="13" width="1" height="1" fill="#fff" opacity=".9"/><path d="M375 15.2h6v3.8h-1.3v-1h-3.4v1h-1.3z" fill="#fff"/><rect x="376.2" y="16.3" width="3.6" height=".8" fill="#2a5fd8" opacity=".5"/>
<rect x="382" y="12" width="8" height="8" fill="#3aa324"/><rect x="382" y="12" width="8" height="2.2" fill="#2a8a18"/><rect x="383.2" y="13" width="1" height="1" fill="#fff" opacity=".9"/><path d="M383 15.2h6v3.8h-1.3v-1h-3.4v1h-1.3z" fill="#fff"/><rect x="384.2" y="16.3" width="3.6" height=".8" fill="#3aa324" opacity=".5"/>
<rect x="399" y="1" width="1" height="21" fill="#a0a0a0" shape-rendering="crispEdges"/>
<g shape-rendering="crispEdges"><rect x="404" y="0" width="26" height="23" fill="url(#chk)"/><rect x="404" y="0" width="25" height="1" fill="#a0a0a0"/><rect x="404" y="0" width="1" height="22" fill="#a0a0a0"/><rect x="404" y="22" width="26" height="1" fill="#fff"/><rect x="429" y="0" width="1" height="23" fill="#fff"/></g>
<g transform="translate(410,6)" fill="#505050" shape-rendering="crispEdges"><rect x="2" y="0" width="1" height="14"/><rect x="1" y="1" width="3" height="1"/><rect x="0" y="11" width="14" height="1"/><rect x="12" y="10" width="1" height="3"/></g>
<path d="M417.5 8.5L420.8 11.5L417.5 14.5Z" fill="#5ae05a" stroke="#0a8a0a" stroke-width="1" stroke-linejoin="round"/>
<g shape-rendering="crispEdges"><rect x="432" y="0" width="26" height="23" fill="url(#chk)"/><rect x="432" y="0" width="25" height="1" fill="#a0a0a0"/><rect x="432" y="0" width="1" height="22" fill="#a0a0a0"/><rect x="432" y="22" width="26" height="1" fill="#fff"/><rect x="457" y="0" width="1" height="23" fill="#fff"/></g>
<g transform="translate(438,6)" fill="#505050" shape-rendering="crispEdges"><rect x="2" y="0" width="1" height="14"/><rect x="1" y="1" width="3" height="1"/><rect x="0" y="11" width="14" height="1"/><rect x="12" y="10" width="1" height="3"/></g>
<rect x="446" y="6" width="1" height="10" fill="#1f6fb4" shape-rendering="crispEdges"/><path d="M447.4 11.5L450.6 8.8L450 11L452.2 11L452.2 12L450 12L450.6 14.2Z" fill="#d04a08"/>
<rect x="461" y="1" width="1" height="21" fill="#a0a0a0" shape-rendering="crispEdges"/>
<path d="M472 4.5L479.6 4.5L482.6 7.5L482.6 16.8L472 16.8Z" fill="#fbfbfb" stroke="#8a8a8a" stroke-width=".9"/><path d="M479.6 4.5L479.6 7.5L482.6 7.5" fill="#e4e4e4" stroke="#8a8a8a" stroke-width=".7"/>
<path d="M476.4 7.2C475.2 6.9 474.8 7.6 474.8 8.6L474.8 13.4M473.8 9.8L476 9.8" fill="none" stroke="#4a4030" stroke-width=".8"/>
<path d="M479.6 10.4h3.6v3.7h3.7v3.6h-3.7v3.7h-3.6v-3.7h-3.7v-3.6h3.7z" fill="url(#gplus)" stroke="#0f8a0f" stroke-width=".9"/>
<g transform="translate(493,0)" fill="#000" shape-rendering="crispEdges"><rect x="0" y="11" width="5" height="1"/><rect x="1" y="12" width="3" height="1"/><rect x="2" y="13" width="1" height="1"/></g>
<defs><linearGradient id="ring" x1="0" y1="0" x2=".7" y2="1"><stop offset="0" stop-color="#3a9af0"/><stop offset="1" stop-color="#0a4fb4"/></linearGradient></defs>
<circle cx="517" cy="12" r="8" fill="url(#ring)"/><circle cx="517" cy="12" r="5.4" fill="#fcfcfc"/>
<g stroke="#a8aeb6" stroke-width=".7"><path d="M517 7.3v.9M517 15.8v.9M512.3 12h.9M520.8 12h.9M513.7 8.7l.6.6M519.7 14.7l.6.6M513.7 15.3l.6-.6M519.7 9.3l.6-.6"/></g>
<path d="M516.7 8.4L517 12.2L519.6 13" fill="none" stroke="#222" stroke-width="1.2"/>
<g transform="translate(532,0)" fill="#000" shape-rendering="crispEdges"><rect x="0" y="11" width="5" height="1"/><rect x="1" y="12" width="3" height="1"/><rect x="2" y="13" width="1" height="1"/></g>
<rect x="548.5" y="5.5" width="15" height="13" fill="#fff" stroke="#3f6fc4" stroke-width="1"/><rect x="549" y="6" width="14" height="2" fill="#6fa0e8"/><rect x="549" y="12.5" width="14" height=".8" fill="#3f6fc4"/>
<path d="M550.6 11.2L552.6 11.2L554.2 10L555.8 9.4L557.6 10.4L559.6 10.2L561.4 9.2" fill="none" stroke="#8a2010" stroke-width="1.3"/><path d="M551 16.2L553 15.4L555 16.4L557 15.2L558.4 14L560 15.4L561.4 16.4" fill="none" stroke="#108a20" stroke-width="1.3"/>
<g transform="translate(571,0)" fill="#000" shape-rendering="crispEdges"><rect x="0" y="11" width="5" height="1"/><rect x="1" y="12" width="3" height="1"/><rect x="2" y="13" width="1" height="1"/></g>
<rect x="582" y="0" width="1" height="23" fill="#a0a0a0" shape-rendering="crispEdges"/><rect x="583" y="0" width="1" height="23" fill="#fff" shape-rendering="crispEdges"/>
<g fill="#a6a6a6" shape-rendering="crispEdges"><rect x="586" y="2" width="3" height="1"/><rect x="586" y="4" width="3" height="1"/><rect x="586" y="6" width="3" height="1"/><rect x="586" y="8" width="3" height="1"/><rect x="586" y="10" width="3" height="1"/><rect x="586" y="12" width="3" height="1"/><rect x="586" y="14" width="3" height="1"/><rect x="586" y="16" width="3" height="1"/><rect x="586" y="18" width="3" height="1"/><rect x="586" y="20" width="3" height="1"/></g>
<g shape-rendering="crispEdges"><rect x="592" y="0" width="26" height="23" fill="url(#chk)"/><rect x="592" y="0" width="25" height="1" fill="#a0a0a0"/><rect x="592" y="0" width="1" height="22" fill="#a0a0a0"/><rect x="592" y="22" width="26" height="1" fill="#fff"/><rect x="617" y="0" width="1" height="23" fill="#fff"/></g>
<path d="M600 4.8L600 16L602.6 13.6L605.2 19.4L607.2 18.4L604.7 12.9L608.2 12.6Z" fill="#454545"/>
<g fill="#454545" shape-rendering="crispEdges"><rect x="625" y="12" width="6" height="1"/><rect x="634" y="12" width="6" height="1"/><rect x="632" y="5" width="1" height="6"/><rect x="632" y="14" width="1" height="6"/><rect x="632" y="12" width="1" height="1" opacity=".6"/></g>
<rect x="649" y="1" width="1" height="21" fill="#a0a0a0" shape-rendering="crispEdges"/>
<g fill="#454545" shape-rendering="crispEdges"><rect x="666" y="6" width="1" height="13"/><rect x="689" y="12" width="12" height="1"/></g>
<path d="M716.8 18.9L729 6.6" stroke="#454545" stroke-width="1.2"/>
<g stroke="#454545" fill="none"><path d="M742.8 13.6L751 5.9M748 18.8L757.2 10.3" stroke-width=".8"/><path d="M744.6 16.4L755.6 7.4" stroke-width="1"/><path d="M745.4 18.7L745.9 12M748.4 15.6L748.9 10M751.5 14.4L752 8M754.4 10.8L754.7 4.2" stroke-width="1.5"/></g>
<text x="753.8" y="20.8" font-size="6.8" font-weight="bold" fill="#333">E</text>
<g fill="#454545" shape-rendering="crispEdges"><rect x="772" y="5" width="1" height="1"/><rect x="774" y="5" width="1" height="1"/><rect x="776" y="5" width="1" height="1"/><rect x="778" y="5" width="1" height="1"/><rect x="780" y="5" width="1" height="1"/><rect x="782" y="5" width="1" height="1"/><rect x="784" y="5" width="1" height="1"/><rect x="772" y="8" width="1" height="1"/><rect x="774" y="8" width="1" height="1"/><rect x="776" y="8" width="1" height="1"/><rect x="778" y="8" width="1" height="1"/><rect x="780" y="8" width="1" height="1"/><rect x="782" y="8" width="1" height="1"/><rect x="784" y="8" width="1" height="1"/><rect x="772" y="12" width="1" height="1"/><rect x="774" y="12" width="1" height="1"/><rect x="776" y="12" width="1" height="1"/><rect x="778" y="12" width="1" height="1"/><rect x="780" y="12" width="1" height="1"/><rect x="782" y="12" width="1" height="1"/><rect x="784" y="12" width="1" height="1"/><rect x="772" y="16" width="1" height="1"/><rect x="774" y="16" width="1" height="1"/><rect x="776" y="16" width="1" height="1"/><rect x="778" y="16" width="1" height="1"/><rect x="780" y="16" width="1" height="1"/></g>
<text x="781.8" y="20.8" font-size="6.8" font-weight="bold" fill="#333">F</text>
<text x="802.4" y="17" font-size="12.6" fill="#505050" stroke="#505050" stroke-width=".2">A</text>
<g fill="#505050" shape-rendering="crispEdges"><rect x="829" y="6" width="1" height="1"/><rect x="831" y="6" width="1" height="1"/><rect x="833" y="6" width="1" height="1"/><rect x="835" y="6" width="1" height="1"/><rect x="837" y="6" width="1" height="1"/><rect x="839" y="6" width="1" height="1"/><rect x="829" y="18" width="1" height="1"/><rect x="831" y="18" width="1" height="1"/><rect x="833" y="18" width="1" height="1"/><rect x="835" y="18" width="1" height="1"/><rect x="837" y="18" width="1" height="1"/><rect x="839" y="18" width="1" height="1"/><rect x="829" y="8" width="1" height="1"/><rect x="829" y="10" width="1" height="1"/><rect x="829" y="12" width="1" height="1"/><rect x="829" y="14" width="1" height="1"/><rect x="829" y="16" width="1" height="1"/><rect x="840" y="8" width="1" height="1"/><rect x="840" y="10" width="1" height="1"/><rect x="840" y="12" width="1" height="1"/><rect x="840" y="14" width="1" height="1"/><rect x="840" y="16" width="1" height="1"/><rect x="840" y="6" width="1" height="1"/><rect x="840" y="18" width="1" height="1"/><rect x="828" y="5" width="2" height="1"/><rect x="831" y="9" width="8" height="1"/><rect x="834" y="9" width="2" height="8"/></g>
<g fill="#505050"><path d="M859.5 5.6L863.2 9.4L860.8 10.6L858.2 10.6L855.8 9.4Z"/><path d="M866.5 19L870.2 15.2L867.8 14L865.2 14L862.8 15.2Z"/></g><path d="M858.2 13.4L860.6 15.6L865 10.2" fill="none" stroke="#505050" stroke-width="1.3"/>
<g transform="translate(877,0)" fill="#000" shape-rendering="crispEdges"><rect x="0" y="11" width="5" height="1"/><rect x="1" y="12" width="3" height="1"/><rect x="2" y="13" width="1" height="1"/></g>
<rect x="888" y="0" width="1" height="23" fill="#a0a0a0" shape-rendering="crispEdges"/><rect x="889" y="0" width="1" height="23" fill="#fff" shape-rendering="crispEdges"/>
<g fill="#a6a6a6" shape-rendering="crispEdges"><rect x="892" y="2" width="3" height="1"/><rect x="892" y="4" width="3" height="1"/><rect x="892" y="6" width="3" height="1"/><rect x="892" y="8" width="3" height="1"/><rect x="892" y="10" width="3" height="1"/><rect x="892" y="12" width="3" height="1"/><rect x="892" y="14" width="3" height="1"/><rect x="892" y="16" width="3" height="1"/><rect x="892" y="18" width="3" height="1"/><rect x="892" y="20" width="3" height="1"/></g>
<text x="903.0" y="16" font-size="10.2" fill="#2a2a2a" textLength="13.7" lengthAdjust="spacingAndGlyphs">M1</text>
<text x="931.1" y="16" font-size="10.2" fill="#2a2a2a" textLength="13.7" lengthAdjust="spacingAndGlyphs">M5</text>
<text x="956.9" y="16" font-size="10.2" fill="#2a2a2a" textLength="18.8" lengthAdjust="spacingAndGlyphs">M15</text>
<text x="985.0" y="16" font-size="10.2" fill="#2a2a2a" textLength="18.8" lengthAdjust="spacingAndGlyphs">M30</text>
<text x="1015.8" y="16" font-size="10.2" fill="#2a2a2a" textLength="12.7" lengthAdjust="spacingAndGlyphs">H1</text>
<g shape-rendering="crispEdges"><rect x="1038" y="0" width="26" height="23" fill="url(#chk)"/><rect x="1038" y="0" width="25" height="1" fill="#a0a0a0"/><rect x="1038" y="0" width="1" height="22" fill="#a0a0a0"/><rect x="1038" y="22" width="26" height="1" fill="#fff"/><rect x="1063" y="0" width="1" height="23" fill="#fff"/></g>
<text x="1042.7" y="16" font-size="10.2" fill="#2a2a2a" textLength="13.8" lengthAdjust="spacingAndGlyphs">H4</text>
<text x="1071.3" y="16" font-size="10.2" fill="#2a2a2a" textLength="13.4" lengthAdjust="spacingAndGlyphs">D1</text>
<text x="1099.3" y="16" font-size="10.2" fill="#2a2a2a" textLength="15.2" lengthAdjust="spacingAndGlyphs">W1</text>
<text x="1125.8" y="16" font-size="10.2" fill="#2a2a2a" textLength="16.1" lengthAdjust="spacingAndGlyphs">MN</text>
<rect x="1149" y="0" width="1" height="23" fill="#a0a0a0" shape-rendering="crispEdges"/><rect x="1150" y="0" width="1" height="23" fill="#fff" shape-rendering="crispEdges"/>
<path d="M1616.2 12.4L1612.4 16.6" stroke="#2a5fd8" stroke-width="2.8" stroke-linecap="round"/><circle cx="1619.7" cy="9.4" r="4" fill="#f6f6ff" stroke="#2a5fd8" stroke-width="1.4"/>
<path d="M1641.5 9C1645.6 9 1648 11 1648 13.6C1648 16.2 1645.4 18 1641.6 18L1639.6 20.4L1639.4 17.6C1637.2 16.8 1636.2 15.4 1636.2 13.6C1636.2 11 1638.4 9 1641.5 9Z" fill="#e4e6f2" stroke="#a8a8a8" stroke-width="1"/>
<circle cx="1650.5" cy="9.4" r="8.4" fill="url(#badge)"/>
<text x="1650.6" y="14.2" font-size="13" font-weight="bold" font-family="'Liberation Serif',serif" fill="#fff" text-anchor="middle">1</text>
</svg>
</body></html>
